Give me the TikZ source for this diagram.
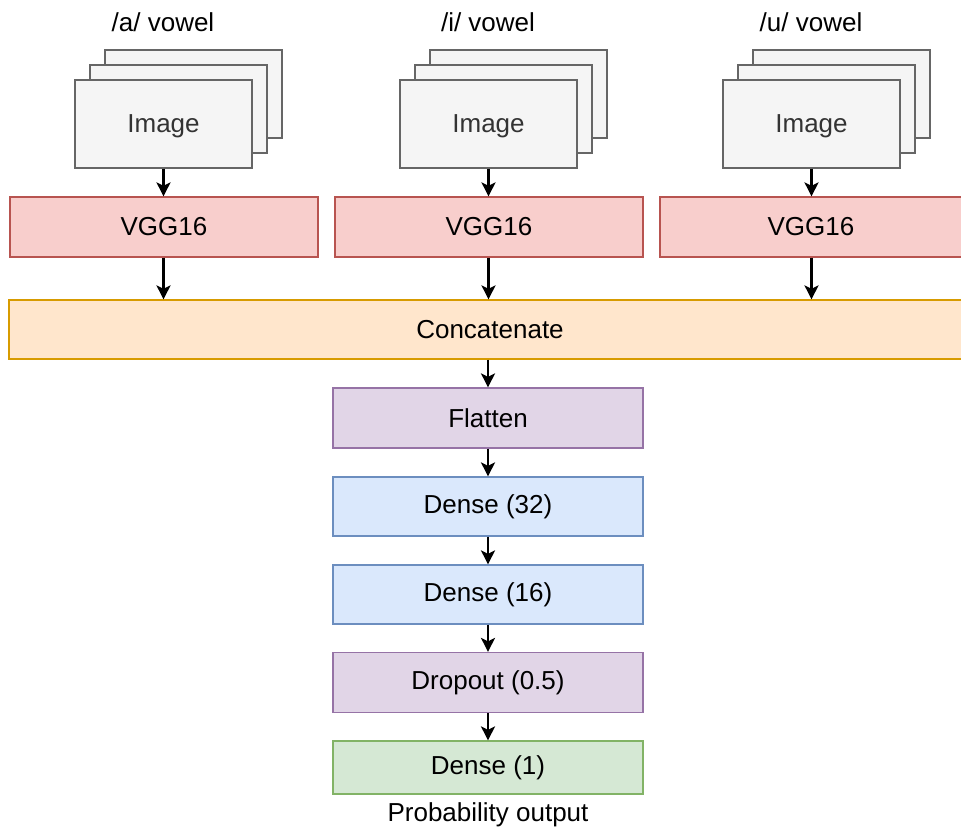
\documentclass[tikz,border=0pt]{standalone}
\usepackage{fontspec}
\setmainfont{Liberation Sans}
\usetikzlibrary{arrows.meta}
\definecolor{imgfill}{HTML}{F5F5F5}\definecolor{imgdraw}{HTML}{666666}\definecolor{imgtext}{HTML}{333333}
\definecolor{redfill}{HTML}{F8CECC}\definecolor{reddraw}{HTML}{B85450}
\definecolor{orfill}{HTML}{FFE6CC}\definecolor{ordraw}{HTML}{D79B00}
\definecolor{pufill}{HTML}{E1D5E7}\definecolor{pudraw}{HTML}{9673A6}
\definecolor{blfill}{HTML}{DAE8FC}\definecolor{bldraw}{HTML}{6C8EBF}
\definecolor{grfill}{HTML}{D5E8D4}\definecolor{grdraw}{HTML}{82B366}
\tikzset{
  base/.style={rectangle, inner sep=0pt, line width=1.2pt, font=\fontsize{26}{31}\selectfont},
  imgbox/.style={base, fill=imgfill, draw=imgdraw, text=imgtext, minimum width=177pt, minimum height=88pt},
  vggbox/.style={base, fill=redfill, draw=reddraw, minimum width=308pt, minimum height=60pt},
  catbox/.style={base, fill=orfill, draw=ordraw, minimum width=962pt, minimum height=59pt},
  pubox/.style={base, fill=pufill, draw=pudraw, minimum width=310pt, minimum height=60pt},
  blbox/.style={base, fill=blfill, draw=bldraw, minimum width=310pt, minimum height=59pt},
  grbox/.style={base, fill=grfill, draw=grdraw, minimum width=310pt, minimum height=53pt},
  lbl/.style={inner sep=0pt, font=\fontsize{26}{31}\selectfont},
  arr/.style={line width=2.2pt, -{Stealth[length=14pt,width=14pt,inset=3.5pt]}}
}
\begin{document}
\begin{tikzpicture}[x=1pt,y=-1pt]
\useasboundingbox (0,0) rectangle (961,832);
\clip (0,0) rectangle (961,832);
% labels
\node[lbl] (la) at (163,22) {/a/ vowel};
\node[lbl] (li) at (488,22) {/i/ vowel};
\node[lbl] (lu) at (811,22) {/u/ vowel};
% image stacks
\foreach \n/\cx in {a/163.5,i/488.5,u/811.5}{
  \node[imgbox] (img\n3) at (\cx+30,94) {};
  \node[imgbox] (img\n2) at (\cx+15,109) {};
  \node[imgbox] (img\n) at (\cx,124) {};
  \node[lbl, text=imgtext] (img\n t) at (\cx,126) {Image};
}
% VGG
\node[vggbox] (vgga) at (164,227) {VGG16};
\node[vggbox] (vggi) at (489,227) {VGG16};
\node[vggbox] (vggu) at (814,227) {};
\node[lbl] (vggut) at (811,227) {VGG16};
% concat
\node[catbox] (cat) at (490,329.5) {Concatenate};
% stack
\node[pubox] (flat) at (488,418) {Flatten};
\node[blbox] (d32) at (488,506.5) {Dense (32)};
\node[blbox] (d16) at (488,594.5) {Dense (16)};
\node[pubox] (drop) at (488,682.5) {Dropout (0.5)};
\node[grbox] (d1) at (488,767.5) {Dense (1)};
\node[lbl] (prob) at (488,815) {Probability output};
% arrows
\foreach \n in {a,i,u}{
  \draw[arr] (img\n.south) -- (img\n.south |- vgg\n.north);
  \draw[arr] (img\n.south |- vgg\n.south) -- (img\n.south |- cat.north);
}
\draw[arr] (flat.north |- cat.south) -- (flat.north);
\draw[arr] (flat) -- (d32);
\draw[arr] (d32) -- (d16);
\draw[arr] (d16) -- (drop);
\draw[arr] (drop) -- (d1);
\end{tikzpicture}
\end{document}
